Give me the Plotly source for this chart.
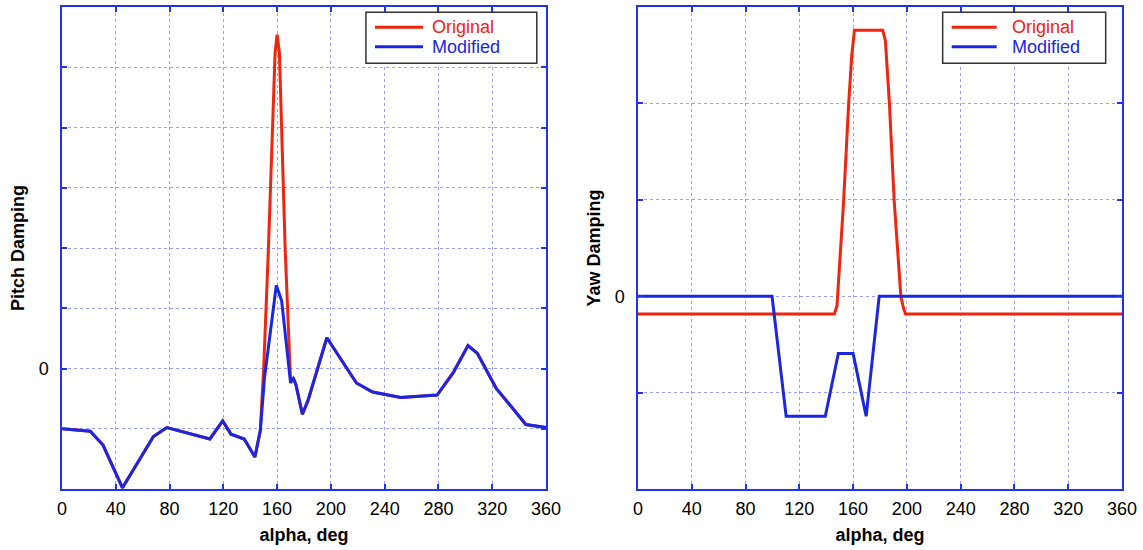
import plotly.graph_objects as go
from plotly.subplots import make_subplots

# Pitch damping vs angle of attack
pitch_alpha_mod = [0, 21, 30.5, 45, 68, 78, 110, 119.5, 125.7, 135.5, 143.5, 147.5, 150.6,
                   159.4, 163.4, 170, 172, 174, 178.8, 183, 197, 219, 231, 252, 279, 291,
                   302, 309, 323, 345, 360]
pitch_mod = [-1.0, -1.04, -1.27, -1.98, -1.13, -0.98, -1.17, -0.87, -1.09, -1.17, -1.47, -1.03,
             -0.16, 1.38, 1.12, -0.24, -0.16, -0.27, -0.76, -0.53, 0.51, -0.24, -0.39, -0.48,
             -0.44, -0.07, 0.38, 0.25, -0.33, -0.93, -0.98]
pitch_alpha_orig = [0, 21, 30.5, 45, 68, 78, 110, 119.5, 125.7, 135.5, 143.5, 147.5, 150,
                    153.5, 158.5, 160, 161.7, 166, 170, 172, 174, 178.8, 183, 197, 219, 231,
                    252, 279, 291, 302, 309, 323, 345, 360]
pitch_orig = [-1.0, -1.04, -1.27, -1.98, -1.13, -0.98, -1.17, -0.87, -1.09, -1.17, -1.47, -1.03,
              0.0, 1.97, 5.24, 5.54, 5.24, 1.97, -0.2, -0.16, -0.27, -0.76, -0.53, 0.51, -0.24,
              -0.39, -0.48, -0.44, -0.07, 0.38, 0.25, -0.33, -0.93, -0.98]

# Yaw damping vs angle of attack
yaw_alpha_orig = [0, 146, 148, 150, 153, 156.7, 159, 161, 182, 184, 187, 190.5, 193, 195.5,
                  197.4, 199, 360]
yaw_orig = [-0.185, -0.185, -0.1, 0.3, 1.0, 2.0, 2.5, 2.76, 2.76, 2.65, 2.0, 1.0, 0.55, 0.0,
            -0.12, -0.185, -0.185]
yaw_alpha_mod = [0, 99.7, 110.2, 139.3, 149, 160, 169.7, 179.4, 360]
yaw_mod = [0, 0, -1.246, -1.246, -0.594, -0.594, -1.246, 0, 0]

x_ticks = [0, 40, 80, 120, 160, 200, 240, 280, 320, 360]
pitch_yticks = [-2, -1, 0, 1, 2, 3, 4, 5, 6]
yaw_yticks = [-2, -1, 0, 1, 2, 3]
series_names = ["Original", "Modified"]

RED = "#f0240f"
BLUE = "#1a26e2"
AXIS = "#2233ee"
GRID = "rgba(70,80,245,0.55)"
FONT = "Liberation Sans, Arial, sans-serif"
COLORS = [RED, BLUE]

fig = make_subplots(rows=1, cols=2)

fig.add_trace(go.Scatter(x=pitch_alpha_orig, y=pitch_orig, mode="lines",
                         line=dict(color=RED, width=3), name=series_names[0]), row=1, col=1)
fig.add_trace(go.Scatter(x=pitch_alpha_mod, y=pitch_mod, mode="lines",
                         line=dict(color=BLUE, width=3), name=series_names[1]), row=1, col=1)
fig.add_trace(go.Scatter(x=yaw_alpha_orig, y=yaw_orig, mode="lines",
                         line=dict(color=RED, width=3), name=series_names[0]), row=1, col=2)
fig.add_trace(go.Scatter(x=yaw_alpha_mod, y=yaw_mod, mode="lines",
                         line=dict(color=BLUE, width=3), name=series_names[1]), row=1, col=2)

W, H = 1143, 550

axis_common = dict(
    showline=True, linecolor=AXIS, linewidth=1.5, mirror="ticks",
    ticks="inside", ticklen=5, tickcolor=AXIS, tickwidth=1.5,
    showgrid=True, gridcolor=GRID, gridwidth=1, griddash="dot",
    zeroline=False, automargin=False,
    tickfont=dict(family=FONT, size=18, color="black"),
)
title_font = dict(family=FONT, size=18, color="black")

fig.update_xaxes(**axis_common, range=[0, 360], tickvals=x_ticks, ticklabelstandoff=3,
                 title=dict(text="<b>alpha, deg</b>", font=title_font, standoff=10))
fig.update_xaxes(domain=[62 / W, 546 / W], row=1, col=1)
fig.update_xaxes(domain=[638 / W, 1122 / W], row=1, col=2)

fig.update_yaxes(**axis_common, ticklabelstandoff=8)
fig.update_yaxes(range=[-2, 6], tickvals=pitch_yticks,
                 ticktext=["" if v != 0 else "0" for v in pitch_yticks],
                 title=dict(text="<b>Pitch Damping</b>", font=title_font, standoff=9),
                 row=1, col=1)
fig.update_yaxes(range=[-2, 3], tickvals=yaw_yticks,
                 ticktext=["" if v != 0 else "0" for v in yaw_yticks],
                 title=dict(text="<b>Yaw Damping</b>", font=title_font, standoff=9),
                 row=1, col=2)

# Boxed legend in the upper right of each panel
legend_boxes = {
    "x": dict(box=(0.628, 0.981), line=(0.6467, 0.7459), text=0.760),
    "x2": dict(box=(0.6295, 0.9663), line=(0.6481, 0.7411), text=0.7686),
}
row_y = [0.958, 0.9176]
for xr, spec in legend_boxes.items():
    yr = "y" if xr == "x" else "y2"
    fig.add_shape(type="rect", xref=f"{xr} domain", yref=f"{yr} domain",
                  x0=spec["box"][0], x1=spec["box"][1], y0=0.8832, y1=0.989,
                  line=dict(color="#333333", width=1.5), fillcolor="white", layer="above")
    for name, color, yy in zip(series_names, COLORS, row_y):
        fig.add_shape(type="line", xref=f"{xr} domain", yref=f"{yr} domain",
                      x0=spec["line"][0], x1=spec["line"][1], y0=yy, y1=yy,
                      line=dict(color=color, width=3), layer="above")
        fig.add_annotation(xref=f"{xr} domain", yref=f"{yr} domain", x=spec["text"], y=yy,
                           text=name, showarrow=False, xanchor="left", yanchor="middle",
                           font=dict(family=FONT, size=18, color=color))

fig.update_layout(
    width=W, height=H,
    margin=dict(l=0, r=0, t=7, b=61),
    paper_bgcolor="white", plot_bgcolor="white",
    showlegend=False,
)

fig.write_html("out.html")
